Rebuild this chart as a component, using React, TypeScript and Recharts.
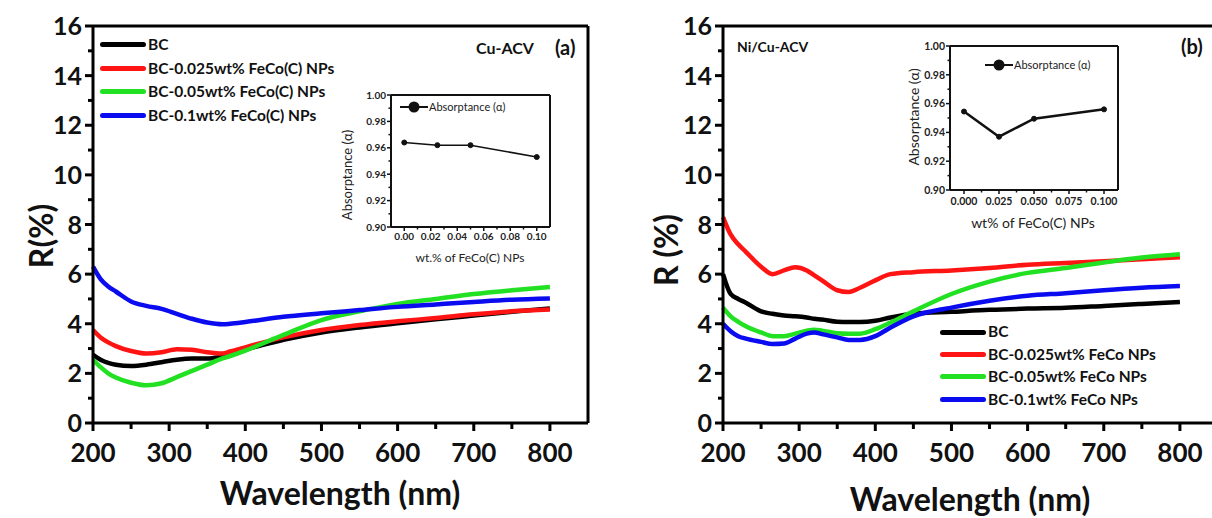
import React from 'react';
import { LineChart, Line, XAxis, YAxis, ReferenceLine, Legend, Label } from 'recharts';

const FONT = 'Lato, "Open Sans", "DejaVu Sans", sans-serif';

// legend names and colours
const namesA = ['BC', 'BC-0.025wt% FeCo(C) NPs', 'BC-0.05wt% FeCo(C) NPs', 'BC-0.1wt% FeCo(C) NPs'];
const namesB = ['BC', 'BC-0.025wt% FeCo NPs', 'BC-0.05wt% FeCo NPs', 'BC-0.1wt% FeCo NPs'];
const colors = ['#000000', '#ff1414', '#22e022', '#0b0bf0'];

// (a) Cu-ACV reflectance, R(%)
const wavelengthA = [200, 210, 220, 230, 250, 270, 290, 310, 330, 350, 370, 380, 400, 450, 500, 550, 600, 650, 700, 750, 800];
const bcA = [2.75, 2.55, 2.42, 2.35, 2.3, 2.35, 2.45, 2.55, 2.6, 2.6, 2.68, 2.73, 2.95, 3.35, 3.65, 3.85, 4.02, 4.18, 4.33, 4.48, 4.62];
const fc025A = [3.75, 3.45, 3.25, 3.1, 2.9, 2.8, 2.85, 2.97, 2.95, 2.85, 2.8, 2.88, 3.05, 3.45, 3.75, 3.95, 4.1, 4.23, 4.38, 4.5, 4.57];
const fc05A = [2.55, 2.25, 2.0, 1.83, 1.62, 1.52, 1.6, 1.85, 2.1, 2.35, 2.6, 2.7, 2.92, 3.55, 4.15, 4.5, 4.8, 5.0, 5.2, 5.35, 5.48];
const fc1A = [6.3, 5.8, 5.5, 5.3, 4.9, 4.72, 4.6, 4.4, 4.2, 4.05, 3.98, 4.0, 4.07, 4.28, 4.42, 4.55, 4.68, 4.78, 4.88, 4.97, 5.02];

// (b) Ni/Cu-ACV reflectance, R(%)
const wavelengthB = [200, 210, 220, 230, 250, 265, 280, 295, 310, 320, 330, 350, 365, 380, 400, 420, 450, 500, 550, 600, 650, 700, 750, 800];
const bcB = [6.0, 5.2, 5.0, 4.85, 4.5, 4.4, 4.33, 4.3, 4.25, 4.2, 4.17, 4.08, 4.07, 4.07, 4.12, 4.25, 4.4, 4.48, 4.56, 4.61, 4.64, 4.72, 4.8, 4.88];
const fc025B = [8.3, 7.6, 7.2, 6.9, 6.3, 6.0, 6.15, 6.28, 6.15, 5.95, 5.75, 5.35, 5.28, 5.45, 5.75, 6.0, 6.08, 6.15, 6.25, 6.38, 6.45, 6.52, 6.6, 6.68];
const fc05B = [4.65, 4.3, 4.08, 3.9, 3.65, 3.5, 3.5, 3.6, 3.72, 3.76, 3.72, 3.62, 3.6, 3.6, 3.78, 4.05, 4.5, 5.2, 5.7, 6.05, 6.25, 6.47, 6.67, 6.8];
const fc1B = [4.0, 3.7, 3.5, 3.4, 3.27, 3.18, 3.2, 3.4, 3.6, 3.65, 3.58, 3.45, 3.35, 3.35, 3.5, 3.85, 4.3, 4.65, 4.93, 5.13, 5.23, 5.35, 5.45, 5.52];

// insets: absorptance vs wt% of FeCo(C) NPs
const wtPct = [0, 0.025, 0.05, 0.1];
const absorptanceA = [0.964, 0.962, 0.962, 0.953];
const absorptanceB = [0.9545, 0.937, 0.9495, 0.956];

// ticks
const mainXTicks = [200, 250, 300, 350, 400, 450, 500, 550, 600, 650, 700, 750, 800];
const mainYTicks = [0, 1, 2, 3, 4, 5, 6, 7, 8, 9, 10, 11, 12, 13, 14, 15, 16];
const insetYTicks = [0.9, 0.91, 0.92, 0.93, 0.94, 0.95, 0.96, 0.97, 0.98, 0.99, 1.0];
const insetXTicksA = [0, 0.01, 0.02, 0.03, 0.04, 0.05, 0.06, 0.07, 0.08, 0.09, 0.1];
const insetXTicksB = [0, 0.0125, 0.025, 0.0375, 0.05, 0.0625, 0.075, 0.0875, 0.1];

const rowsA = wavelengthA.map((w, i) => ({ w, s0: bcA[i], s1: fc025A[i], s2: fc05A[i], s3: fc1A[i] }));
const rowsB = wavelengthB.map((w, i) => ({ w, s0: bcB[i], s1: fc025B[i], s2: fc05B[i], s3: fc1B[i] }));
const insetRowsA = wtPct.map((wt, i) => ({ wt, a: absorptanceA[i] }));
const insetRowsB = wtPct.map((wt, i) => ({ wt, a: absorptanceB[i] }));

const TS = 8;
const TM = 4;

function MainXTick(props: any) {
  const { x, y, payload } = props;
  const ay = y - TS - TM;
  const major = payload.value % 100 === 0;
  return (
    <g>
      <line x1={x} x2={x} y1={ay} y2={ay + (major ? 8 : 6)} stroke="#000" strokeWidth={3} />
      {major && (
        <text x={x} y={ay + 39} textAnchor="middle" fontSize={26} fontWeight={700} fontFamily={FONT} fill="#111">
          {payload.value}
        </text>
      )}
    </g>
  );
}

function MainYTick(props: any) {
  const { x, y, payload } = props;
  const ax = x + TS + TM;
  const major = payload.value % 2 === 0;
  return (
    <g>
      <line x1={ax} x2={ax - (major ? 8 : 5)} y1={y} y2={y} stroke="#000" strokeWidth={3} />
      {major && (
        <text x={ax - 11} y={y} dy="0.36em" textAnchor="end" fontSize={25} fontWeight={700} fontFamily={FONT} fill="#111">
          {payload.value}
        </text>
      )}
    </g>
  );
}

function SeriesLegend({ payload, row }: any) {
  return (
    <div>
      {(payload || []).map((e: any) => (
        <div key={e.value} style={{ display: 'flex', alignItems: 'center', height: row }}>
          <div style={{ width: 46, height: 5, borderRadius: 3, background: e.color }} />
          <span style={{ fontFamily: FONT, fontWeight: 700, fontSize: 15.5, color: '#111', marginLeft: 2, whiteSpace: 'nowrap', lineHeight: 1 }}>
            {e.value}
          </span>
        </div>
      ))}
    </div>
  );
}

function SpectraPanel({ left, data, names, yTitle, yTitleX, yTitleY, xTitleY, legendLeft, legendTop, legendRow }: any) {
  return (
    <div style={{ position: 'absolute', left, top: 0 }}>
      <LineChart width={600} height={518} data={data} margin={{ top: 26, right: 12, bottom: 0, left: 0 }}>
        <XAxis
          dataKey="w"
          type="number"
          domain={[200, 850]}
          ticks={mainXTicks}
          interval={0}
          height={95}
          tickSize={TS}
          tickMargin={TM}
          tickLine={false}
          axisLine={{ stroke: '#000', strokeWidth: 3 }}
          tick={(t: any) => <MainXTick {...t} />}
        >
          <Label
            content={() => (
              <text x={340} y={xTitleY} textAnchor="middle" fontSize={32} fontWeight={700} fontFamily={FONT} fill="#111">
                Wavelength (nm)
              </text>
            )}
          />
        </XAxis>
        <YAxis
          type="number"
          domain={[0, 16]}
          ticks={mainYTicks}
          interval={0}
          width={93}
          tickSize={TS}
          tickMargin={TM}
          tickLine={false}
          axisLine={{ stroke: '#000', strokeWidth: 3 }}
          tick={(t: any) => <MainYTick {...t} />}
        >
          <Label
            content={() => (
              <text
                x={yTitleX}
                y={yTitleY}
                transform={`rotate(-90 ${yTitleX} ${yTitleY})`}
                textAnchor="middle"
                dominantBaseline="central"
                fontSize={32}
                fontWeight={700}
                fontFamily={FONT}
                fill="#111"
              >
                {yTitle}
              </text>
            )}
          />
        </YAxis>
        <ReferenceLine y={16} stroke="#000" strokeWidth={3} />
        <ReferenceLine x={850} stroke="#000" strokeWidth={3} />
        {names.map((n: string, i: number) => (
          <Line
            key={n}
            dataKey={`s${i}`}
            name={n}
            type="monotone"
            stroke={colors[i]}
            strokeWidth={4.5}
            dot={false}
            isAnimationActive={false}
          />
        ))}
        <Legend
          layout="vertical"
          align="center"
          verticalAlign="middle"
          wrapperStyle={{ left: legendLeft, top: legendTop, width: 'auto' }}
          content={(lp: any) => <SeriesLegend payload={lp.payload} row={legendRow} />}
        />
      </LineChart>
    </div>
  );
}

function InsetXTick(props: any) {
  const { x, y, payload, majorTest, digits, labelDy, fs } = props;
  const ay = y - 4;
  const major = majorTest(payload.value);
  return (
    <g>
      <line x1={x} x2={x} y1={ay} y2={ay + (major ? 4 : 2.5)} stroke="#111" strokeWidth={1.5} />
      {major && (
        <text x={x} y={ay + labelDy} textAnchor="middle" fontSize={fs} fontWeight={700} fontFamily={FONT} fill="#222">
          {payload.value.toFixed(digits)}
        </text>
      )}
    </g>
  );
}

function InsetYTick(props: any) {
  const { x, y, payload, fs } = props;
  const ax = x + 4;
  const major = Math.round(payload.value * 100) % 2 === 0;
  return (
    <g>
      <line x1={ax} x2={ax - (major ? 4 : 2.5)} y1={y} y2={y} stroke="#111" strokeWidth={1.5} />
      {major && (
        <text x={ax - 5} y={y} dy="0.36em" textAnchor="end" fontSize={fs} fontWeight={700} fontFamily={FONT} fill="#222">
          {payload.value.toFixed(2)}
        </text>
      )}
    </g>
  );
}

function AbsorptanceInset(p: any) {
  return (
    <div style={{ position: 'absolute', left: p.left, top: p.top }}>
      <LineChart width={p.width} height={p.height} data={p.data} margin={{ top: p.mTop, right: p.mRight, bottom: 0, left: 0 }}>
        <XAxis
          dataKey="wt"
          type="number"
          domain={[-0.01, 0.11]}
          ticks={p.xTicks}
          interval={0}
          height={p.xAxisH}
          tickSize={4}
          tickMargin={0}
          tickLine={false}
          axisLine={{ stroke: '#111', strokeWidth: 2 }}
          tick={(t: any) => <InsetXTick {...t} majorTest={p.majorTest} digits={p.digits} labelDy={p.labelDy} fs={p.tickFs} />}
        >
          <Label
            content={() => (
              <text x={p.xTitleX} y={p.xTitleY} textAnchor="middle" fontSize={p.titleFs} fontFamily={FONT} fill="#222">
                {p.xTitle}
              </text>
            )}
          />
        </XAxis>
        <YAxis
          type="number"
          domain={[0.9, 1.0]}
          ticks={insetYTicks}
          interval={0}
          width={p.yAxisW}
          tickSize={4}
          tickMargin={0}
          tickLine={false}
          axisLine={{ stroke: '#111', strokeWidth: 2 }}
          tick={(t: any) => <InsetYTick {...t} fs={p.tickFs} />}
        >
          <Label
            content={() => (
              <text
                x={p.yTitleX}
                y={p.yTitleY}
                transform={`rotate(-90 ${p.yTitleX} ${p.yTitleY})`}
                textAnchor="middle"
                dominantBaseline="central"
                fontSize={p.yTitleFs}
                fontFamily={FONT}
                fill="#222"
              >
                Absorptance (α)
              </text>
            )}
          />
        </YAxis>
        <ReferenceLine y={1.0} stroke="#111" strokeWidth={2} />
        <ReferenceLine x={0.11} stroke="#111" strokeWidth={2} />
        <Line
          dataKey="a"
          name="Absorptance (α)"
          type="linear"
          stroke="#111"
          strokeWidth={p.lineW}
          dot={{ r: 2.5, fill: '#111', stroke: '#111', strokeWidth: 1 }}
          isAnimationActive={false}
        />
        <Legend
          layout="vertical"
          align="center"
          verticalAlign="middle"
          wrapperStyle={{ left: p.legendLeft, top: p.legendTop, width: 'auto' }}
          content={(lp: any) => (
            <svg width={120} height={14} style={{ display: 'block' }}>
              <line x1={0} x2={28} y1={7} y2={7} stroke="#111" strokeWidth={2} />
              <circle cx={14} cy={7} r={5.5} fill="#111" />
              <text x={29} y={7} dy="0.35em" fontSize={p.legendFs} fontFamily={FONT} fill="#222">
                {lp.payload && lp.payload[0] ? lp.payload[0].value : ''}
              </text>
            </svg>
          )}
        />
      </LineChart>
    </div>
  );
}

export default function App() {
  return (
    <div style={{ position: 'absolute', left: 0, top: 0, width: 1212, height: 518, overflow: 'hidden', background: '#fff', fontFamily: FONT }}>
      <SpectraPanel
        left={0}
        data={rowsA}
        names={namesA}
        yTitle="R(%)"
        yTitleX={40}
        yTitleY={236}
        xTitleY={505}
        legendLeft={100}
        legendTop={33}
        legendRow={23.5}
      />
      <SpectraPanel
        left={630}
        data={rowsB}
        names={namesB}
        yTitle="R (%)"
        yTitleX={35}
        yTitleY={250}
        xTitleY={511}
        legendLeft={310}
        legendTop={321}
        legendRow={22.4}
      />
      <AbsorptanceInset
        left={330}
        top={80}
        width={230}
        height={190}
        mTop={15}
        mRight={10}
        yAxisW={61}
        xAxisH={43}
        data={insetRowsA}
        xTicks={insetXTicksA}
        majorTest={(v: number) => Math.round(v * 100) % 2 === 0}
        digits={2}
        labelDy={13}
        tickFs={10}
        legendFs={11}
        titleFs={12}
        yTitleFs={13}
        xTitle="wt.% of FeCo(C) NPs"
        xTitleX={140}
        xTitleY={182}
        yTitleX={17}
        yTitleY={95}
        lineW={1.5}
        legendLeft={70}
        legendTop={20}
      />
      <AbsorptanceInset
        left={890}
        top={30}
        width={240}
        height={205}
        mTop={16}
        mRight={12}
        yAxisW={60}
        xAxisH={45}
        data={insetRowsB}
        xTicks={insetXTicksB}
        majorTest={(v: number) => Math.round(v * 1000) % 25 === 0}
        digits={3}
        labelDy={15}
        tickFs={10.5}
        legendFs={11}
        titleFs={14}
        yTitleFs={14}
        xTitle="wt% of FeCo(C) NPs"
        xTitleX={143}
        xTitleY={198}
        yTitleX={23}
        yTitleY={87}
        lineW={2.5}
        legendLeft={95}
        legendTop={28}
      />
      <svg width={1212} height={518} style={{ position: 'absolute', left: 0, top: 0, pointerEvents: 'none' }}>
        <text x={476} y={54} fontSize={16} fontWeight={700} fontFamily={FONT} fill="#111">Cu-ACV</text>
        <text x={555} y={55} fontSize={20} fontWeight={700} fontFamily={FONT} fill="#111">(a)</text>
        <text x={737} y={52} fontSize={14} fontWeight={700} fontFamily={FONT} fill="#111">Ni/Cu-ACV</text>
        <text x={1181} y={54} fontSize={20} fontWeight={700} fontFamily={FONT} fill="#111">(b)</text>
      </svg>
    </div>
  );
}
